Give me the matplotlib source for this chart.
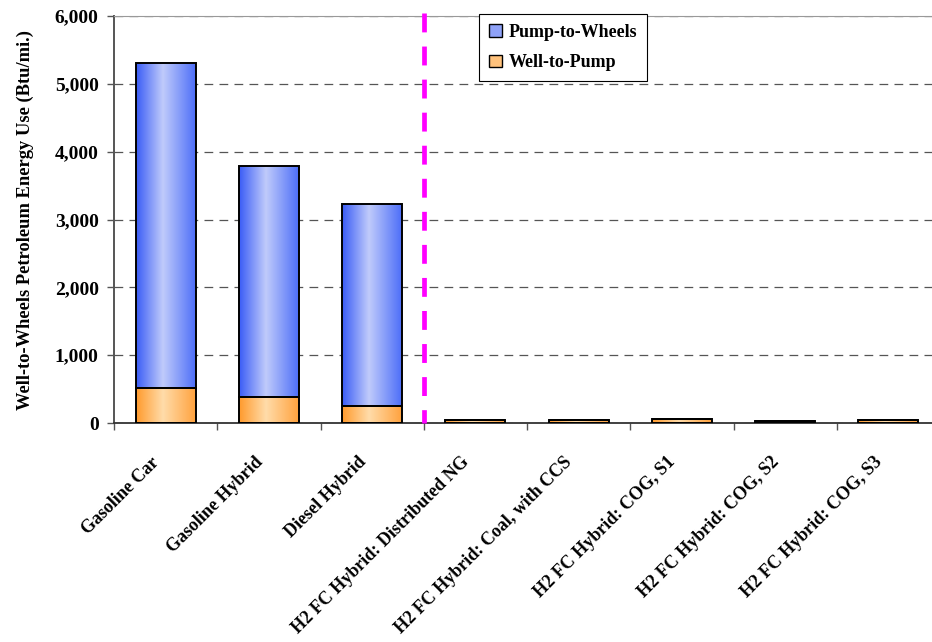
import numpy as np
import matplotlib.pyplot as plt
from matplotlib.patches import Patch
from matplotlib.colors import LinearSegmentedColormap
from matplotlib.ticker import FuncFormatter, FixedLocator
from matplotlib.transforms import ScaledTranslation

plt.rcParams['font.family'] = ['Liberation Serif', 'DejaVu Serif']
plt.rcParams['font.weight'] = 'bold'

pathways = ['Gasoline Car', 'Gasoline Hybrid', 'Diesel Hybrid',
            'H2 FC Hybrid: Distributed NG', 'H2 FC Hybrid: Coal, with CCS',
            'H2 FC Hybrid: COG, S1', 'H2 FC Hybrid: COG, S2',
            'H2 FC Hybrid: COG, S3']
well_to_pump = [520, 380, 250, 45, 45, 65, 25, 45]
pump_to_wheels = [4780, 3410, 2980, 0, 0, 0, 0, 0]


def fill_gradient(ax, bars, stops):
    # horizontal shading: dark at the bar sides, light in the middle
    cmap = LinearSegmentedColormap.from_list('shade', stops)
    grad = np.linspace(0, 1, 256).reshape(1, -1)
    for b in bars:
        if b.get_height() <= 0:
            continue
        x0, y0 = b.get_x(), b.get_y()
        im = ax.imshow(grad, cmap=cmap, aspect='auto', interpolation='bilinear',
                       extent=[x0, x0 + b.get_width(), y0, y0 + b.get_height()],
                       zorder=2)
        im.set_clip_path(b)


fig = plt.figure(figsize=(9.32, 6.42), dpi=100)
ax = fig.add_axes([114 / 932, 219 / 642, 826 / 932, 407 / 642])

x = np.arange(len(pathways))
w = 0.58
wtp = ax.bar(x, well_to_pump, w, facecolor='none', edgecolor='black',
             linewidth=1.4, zorder=3)
ptw = ax.bar(x, pump_to_wheels, w, bottom=well_to_pump, facecolor='none',
             edgecolor='black', linewidth=1.4, zorder=3)
fill_gradient(ax, wtp, [(0, '#ff9a2c'), (0.45, '#ffdcaa'), (1, '#ffa23e')])
fill_gradient(ax, ptw, [(0, '#3a5cf6'), (0.45, '#c0cbfb'), (1, '#4d6ef8')])

ax.set_xlim(-0.5, len(pathways) - 0.5)
ax.set_ylim(0, 6000)

# separator between conventional and hydrogen pathways, dashed from the top down
ax.plot([2.5, 2.5], [6045, 0], color='#ff00ff', lw=3.4, ls=(0, (4.0, 3.0)),
        solid_capstyle='butt', zorder=4, clip_on=False)

ax.set_yticks(np.arange(0, 6001, 1000))
ax.yaxis.set_major_formatter(FuncFormatter(lambda v, p: f'{int(v):,}'))
ax.yaxis.grid(True, color='#555555', ls=(0, (7, 5)), lw=0.9)
ax.set_axisbelow(True)
ax.tick_params(axis='y', length=5, width=1, color='#555555', labelsize=14,
               pad=6)

ax.set_xticks(x)
ax.set_xticklabels(pathways, rotation=45, ha='right', va='top',
                   rotation_mode='anchor', fontsize=13)
ax.xaxis.set_minor_locator(FixedLocator(np.arange(-0.5, len(pathways), 1)))
ax.tick_params(axis='x', which='major', length=0, pad=22)
ax.tick_params(axis='x', which='minor', length=5, width=1, color='#555555')
# nudge the slanted labels left so they end just short of the bar centre
shift = ScaledTranslation(-0.15, 0, fig.dpi_scale_trans)
for lbl in ax.get_xticklabels():
    lbl.set_transform(lbl.get_transform() + shift)

for side in ['top', 'right']:
    ax.spines[side].set_color('#999999')
ax.spines['left'].set_color('#555555')
ax.spines['left'].set_linewidth(1.4)
ax.spines['bottom'].set_color('#333333')
ax.spines['bottom'].set_linewidth(1.3)

ax.set_ylabel('Well-to-Wheels Petroleum Energy Use (Btu/mi.)', fontsize=13.3,
              fontweight='bold', labelpad=15)

handles = [Patch(facecolor='#8fa2f8', edgecolor='black', label='Pump-to-Wheels'),
           Patch(facecolor='#ffc27c', edgecolor='black', label='Well-to-Pump')]
leg = fig.legend(handles=handles, loc='upper left',
                 bbox_to_anchor=(479 / 932, 1 - 14 / 642), fancybox=False,
                 framealpha=1, edgecolor='black', fontsize=13,
                 handlelength=0.7, handleheight=0.7, handletextpad=0.4,
                 borderpad=0.55, labelspacing=0.75, borderaxespad=0)
leg.get_frame().set_linewidth(0.8)

fig.savefig('out.png', dpi=100)
